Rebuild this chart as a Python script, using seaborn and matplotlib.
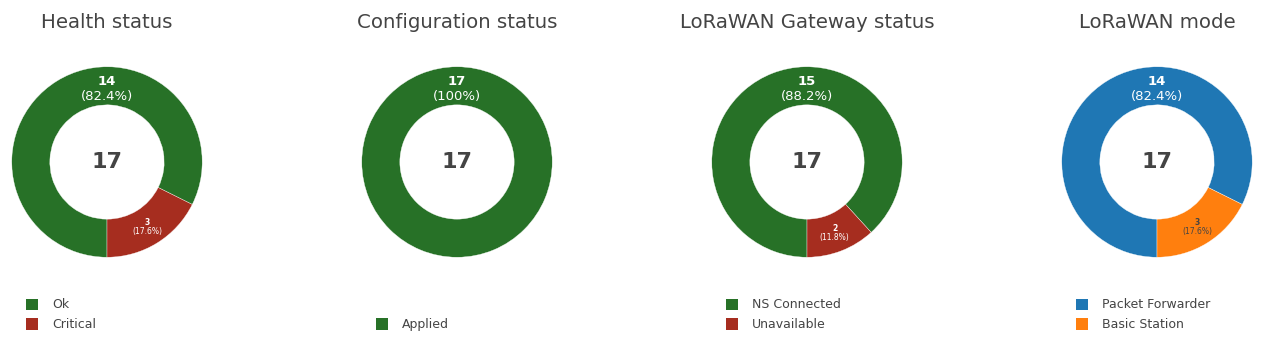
import matplotlib
matplotlib.use("Agg")
import matplotlib.pyplot as plt
import matplotlib.patches as mpatches
import seaborn as sns
import numpy as np

sns.set_theme(style="white")
plt.rcParams['font.family'] = ['DejaVu Sans']

titles = ["Health status", "Configuration status", "LoRaWAN Gateway status", "LoRaWAN mode"]
labels_health = ["Ok", "Critical"]
values_health = [14, 3]
labels_config = ["Applied"]
values_config = [17]
labels_gateway = ["NS Connected", "Unavailable"]
values_gateway = [15, 2]
labels_mode = ["Packet Forwarder", "Basic Station"]
values_mode = [14, 3]

green, red = "#277127", "#a62d1f"
blue, orange = "#1f77b4", "#ff7f0e"
colors = [[green, red], [green], [green, red], [blue, orange]]
text_colors = [["white", "white"], ["white"], ["white", "white"], ["white", "#444444"]]
all_labels = [labels_health, labels_config, labels_gateway, labels_mode]
all_values = [values_health, values_config, values_gateway, values_mode]

W, H = 1262, 343
fig = plt.figure(figsize=(W / 100, H / 100), dpi=100)
TXT = "#444444"
hole = 0.6

for i in range(4):
    cx, cy = 107 + 350 * i, H - 162
    size = 200
    ax = fig.add_axes([(cx - size / 2) / W, (cy - size / 2) / H, size / W, size / H])
    vals = np.array(all_values[i], dtype=float)
    tot = vals.sum()
    start = -90 - 360 * vals[0] / tot
    wedges, _ = ax.pie(vals, colors=colors[i], startangle=start, counterclock=True,
                       radius=1.0, wedgeprops=dict(width=1 - hole, linewidth=0.25, edgecolor="white"))
    ax.set_xlim(-1.05, 1.05)
    ax.set_ylim(-1.05, 1.05)
    ax.set_aspect("equal")
    ax.axis("off")
    r_mid = (1 + hole) / 2
    for j, (w, v) in enumerate(zip(wedges, vals)):
        frac = v / tot
        big = frac > 0.5
        ang = 90 if big else (w.theta1 + w.theta2) / 2
        x, y = r_mid * np.cos(np.radians(ang)), r_mid * np.sin(np.radians(ang))
        if big:
            y -= 0.03
        fs = 9.5 if big else 5.5
        dy = 0.079 if big else 0.047
        ax.text(x, y + dy, f"{int(v)}", ha="center", va="center", fontsize=fs,
                fontweight="bold", color=text_colors[i][j])
        ax.text(x, y - dy, f"({100 * frac:.1f}%)".replace(".0%", "%"), ha="center", va="center",
                fontsize=fs, color=text_colors[i][j])
    ax.text(0, 0, f"{int(tot)}", ha="center", va="center", fontsize=16, fontweight="bold", color=TXT)
    fig.text(cx / W, (H - 22) / H, titles[i], ha="center", va="center", fontsize=14.2, color=TXT)
    handles = [mpatches.Patch(facecolor=c, edgecolor="none") for c in colors[i]]
    leg = fig.legend(handles, all_labels[i], loc="lower left",
                     bbox_to_anchor=((cx - 81 - 4) / W, (H - 335) / H), frameon=False,
                     fontsize=9, handlelength=1.0, handleheight=1.0, handletextpad=1.1,
                     labelspacing=0.55, borderpad=0.3, borderaxespad=0)
    for t in leg.get_texts():
        t.set_color(TXT)

fig.savefig("out.png", dpi=100, facecolor="white")
